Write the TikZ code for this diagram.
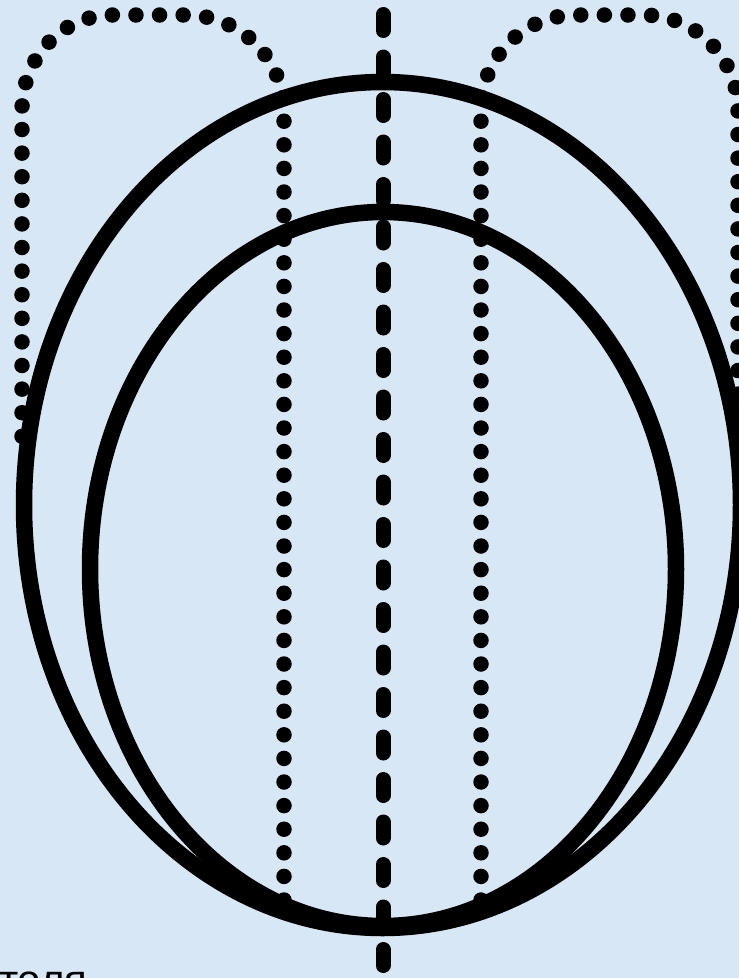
\documentclass[tikz,border=0pt]{standalone}
\usepackage{fontspec}
\newfontfamily\labelfont{Liberation Sans}
\definecolor{paper}{RGB}{216,231,245}

\begin{document}
\begin{tikzpicture}[
  x=1pt, y=-1pt,
  rim/.style={draw=black, line width=16.5pt},
  dotline/.style={draw=black, line width=15.5pt, line cap=round, dash pattern=on 0pt off 23.6pt},
  axisline/.style={draw=black, line width=15pt, line cap=round, dash pattern=on 16pt off 26.5pt}
]
\useasboundingbox (0,0) rectangle (739,978);
\clip (0,0) rectangle (739,978);
\fill[paper] (0,0) rectangle (739,978);

% outer and inner ellipse
\draw[rim] (382.5,505) ellipse [x radius=358.5pt, y radius=423pt];
\draw[rim] (383,569) ellipse [x radius=293pt, y radius=357pt];

% dotted loops
\draw[dotline] (284,900) -- (284,112)
  arc[start angle=0, end angle=90, x radius=98pt, y radius=97pt] -- (112,15)
  arc[start angle=90, end angle=180, x radius=90pt, y radius=95pt] -- (22,450);
\draw[dotline] (481,900) -- (481,110)
  arc[start angle=180, end angle=90, radius=95pt] -- (643,15)
  arc[start angle=90, end angle=0, radius=95pt] -- (738,440);

% axis
\draw[axisline] (383,14.5) -- (383,966);

\node[anchor=base west, inner sep=0pt, font=\labelfont\fontsize{42}{50}\selectfont] (caption) at (-1,994) {толя};
\end{tikzpicture}
\end{document}
